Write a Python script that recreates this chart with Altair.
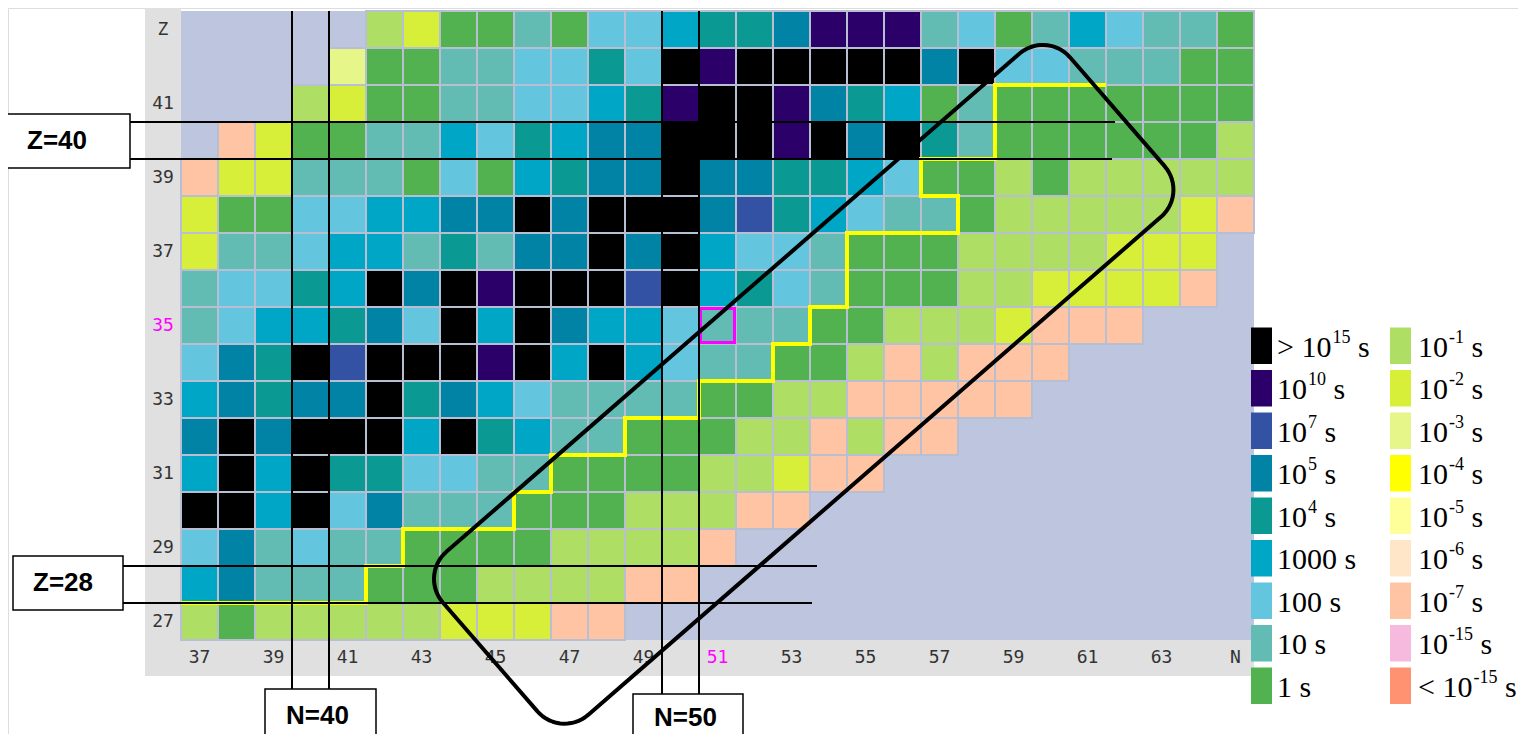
import altair as alt
import numpy as np
import pandas as pd

# ---------------- data ----------------
N_VALUES = list(range(37, 66))          # neutron number columns
Z_VALUES = list(range(43, 26, -1))      # proton number rows (top to bottom)

# half-life class per cell, one character per N = 37 ... 65 ('.' = no nucleus)
ROWS = {
    43: ".....ab001" "02234" "45PPP" "12013" "2110",
    42: "....c00112" "242KP" "KKKKK" "5K221" "1100",
    41: "...ab00112" "234PK" "KP543" "01000" "0000",
    40: ".gb0011324" "355KK" "KPK5K" "41000" "000a",
    39: "gbb1110203" "455K5" "54432" "00a0a" "aaaa",
    38: "b00223355K" "5KKK5" "B4321" "10aaa" "aabg",
    37: "b112331415" "5K5K3" "22100" "0aaaa" "bbb.",
    36: "12243K5KPK" "KKBK3" "42100" "0aabb" "bbg.",
    35: "1233452K3K" "53321" "1100a" "aabgg" "g...",
    34: "254KBKKKPK" "3K321" "100ag" "aggg." "....",
    33: "35455K4532" "11110" "0aagg" "ggg.." "....",
    32: "5K5KKK3K43" "11000" "aagag" "g...." "....",
    31: "3K3K442211" "0000a" "abgg." "....." "....",
    30: "KK3K251110" "00aaa" "gg..." "....." "....",
    29: "2512110000" "aaaag" "....." "....." "....",
    28: "35111000aa" "aagg." "....." "....." "....",
    27: "a0aaaaabbb" "gg..." "....." "....." "....",
}

CLASS_CODES = ["K", "P", "B", "5", "4", "3", "2", "1", "0",
               "a", "b", "c", "d", "e", "f", "g", "h", "i"]
CLASS_COLORS = ["#000000", "#2b0068", "#3352a3", "#0083a4", "#0a9a93", "#00a6c6",
                "#63c5de", "#63bcb4", "#53b250", "#aede63", "#d7ef38", "#e6f689",
                "#ffff00", "#ffff99", "#ffe6c8", "#ffc4a3", "#f5badd", "#ff9270"]

LEG_LEFT_CODES = ["K", "P", "B", "5", "4", "3", "2", "1", "0"]
LEG_LEFT_BASE = ["> 10", "10", "10", "10", "10", "1000 s", "100 s", "10 s", "1 s"]
LEG_LEFT_SUP = ["15", "10", "7", "5", "4", "", "", "", ""]
LEG_RIGHT_CODES = ["a", "b", "c", "d", "e", "f", "g", "h", "i"]
LEG_RIGHT_BASE = ["10", "10", "10", "10", "10", "10", "10", "10", "< 10"]
LEG_RIGHT_SUP = ["-1", "-2", "-3", "-4", "-5", "-6", "-7", "-15", "-15"]

X_TICKS = [37, 39, 41, 43, 45, 47, 49, 51, 53, 55, 57, 59, 61, 63, 65]
X_TICK_TEXT = ["37", "39", "41", "43", "45", "47", "49", "51", "53", "55", "57", "59", "61", "63", "N"]
Y_TICKS = [43, 41, 39, 37, 35, 33, 31, 29, 27]
Y_TICK_TEXT = ["Z", "41", "39", "37", "35", "33", "31", "29", "27"]
HIGHLIGHT_N, HIGHLIGHT_Z = 51, 35

# stepped yellow boundary (cell-edge coordinates N, Z)
STEP_N = [36.5, 41.5, 41.5, 42.5, 42.5, 45.5, 45.5, 46.5, 46.5, 48.5, 48.5, 50.5, 50.5,
          52.5, 52.5, 53.5, 53.5, 54.5, 54.5, 57.5, 57.5, 56.5, 56.5, 58.5, 58.5, 61.5]
STEP_Z = [27.5, 27.5, 28.5, 28.5, 29.5, 29.5, 30.5, 30.5, 31.5, 31.5, 32.5, 32.5, 33.5,
          33.5, 34.5, 34.5, 35.5, 35.5, 37.5, 37.5, 38.5, 38.5, 39.5, 39.5, 41.5, 41.5]

# ---------------- geometry ----------------
PAGE = 8
W, H = 1510, 726
CELL = 37
GX, GY = 181, 11      # page position of the grid's left / top edge


def nx(px):
    return 36.5 + (px - GX) / CELL


def zy(py):
    return 43.5 - (py - GY) / CELL


xs = alt.Scale(domain=[nx(PAGE), nx(PAGE + W)], nice=False, zero=False)
ys = alt.Scale(domain=[zy(PAGE + H), zy(PAGE)], nice=False, zero=False)


def enc_rect(base):
    return base.encode(
        x=alt.X("x:Q", scale=xs, axis=None), x2="x2:Q",
        y=alt.Y("y:Q", scale=ys, axis=None), y2="y2:Q")


# background bands
bands = pd.DataFrame([
    dict(x=nx(145), x2=nx(181), y=zy(8), y2=zy(676), fill="#e0e0e0"),
    dict(x=nx(145), x2=nx(1254), y=zy(640), y2=zy(676), fill="#e0e0e0"),
    dict(x=nx(181), x2=nx(1254), y=zy(11), y2=zy(640), fill="#bec6df"),
])
band_layer = enc_rect(alt.Chart(bands).mark_rect()).encode(
    fill=alt.Fill("fill:N", scale=None))

# cells
cells = []
for z in Z_VALUES:
    for i, n in enumerate(N_VALUES):
        c = ROWS[z][i]
        if c != ".":
            cells.append(dict(N=n, Z=z, code=c, x=n - 0.5, x2=n + 0.5, y=z - 0.5, y2=z + 0.5))
cells = pd.DataFrame(cells)
color_scale = alt.Scale(domain=CLASS_CODES, range=CLASS_COLORS)
cell_layer = enc_rect(alt.Chart(cells).mark_rect(stroke="#b8bfd2", strokeWidth=2)).encode(
    fill=alt.Fill("code:N", scale=color_scale, legend=None))

# tick labels
ticks = [dict(x=n, y=zy(658), t=t, col="#ff00ff" if n == HIGHLIGHT_N else "#333333")
         for n, t in zip(X_TICKS, X_TICK_TEXT)]
ticks += [dict(x=nx(163), y=z, t=t, col="#ff00ff" if z == HIGHLIGHT_Z else "#333333")
          for z, t in zip(Y_TICKS, Y_TICK_TEXT)]
tick_layer = alt.Chart(pd.DataFrame(ticks)).mark_text(
    font="DejaVu Sans Mono", fontSize=18, align="center", baseline="middle").encode(
    x=alt.X("x:Q", scale=xs, axis=None), y=alt.Y("y:Q", scale=ys, axis=None),
    text="t:N", color=alt.Color("col:N", scale=None))

# highlighted cell
hl = pd.DataFrame([dict(x=HIGHLIGHT_N - 0.5 + 0.04, x2=HIGHLIGHT_N + 0.5 - 0.04,
                        y=HIGHLIGHT_Z - 0.5 + 0.04, y2=HIGHLIGHT_Z + 0.5 - 0.04)])
hl_layer = enc_rect(alt.Chart(hl).mark_rect(fillOpacity=0, stroke="#ff00ff", strokeWidth=3))

# yellow stepped line
steps = pd.DataFrame(dict(i=range(len(STEP_N)), x=STEP_N, y=STEP_Z))
step_layer = alt.Chart(steps).mark_line(color="#ffff00", strokeWidth=4).encode(
    x=alt.X("x:Q", scale=xs, axis=None), y=alt.Y("y:Q", scale=ys, axis=None),
    order="i:Q")

# guide lines
guides = pd.DataFrame([
    dict(x=nx(130), x2=nx(1115), y=40.5, y2=40.5),
    dict(x=nx(130), x2=nx(1112), y=39.5, y2=39.5),
    dict(x=nx(123), x2=nx(817), y=28.5, y2=28.5),
    dict(x=nx(123), x2=nx(812), y=27.5, y2=27.5),
    dict(x=39.5, x2=39.5, y=43.5, y2=zy(689)),
    dict(x=40.5, x2=40.5, y=43.5, y2=zy(689)),
    dict(x=49.5, x2=49.5, y=43.5, y2=zy(694)),
    dict(x=50.5, x2=50.5, y=43.5, y2=zy(694)),
])
guide_layer = enc_rect(alt.Chart(guides).mark_rule(color="black", strokeWidth=2))

# rounded rectangle outline
cx, cy, a, b, r, th = 53.33, 33.41, 11.23, 2.92, 0.97, np.radians(41)
pts = []
for (sx, sy, start) in [(1, 1, 0), (-1, 1, 90), (-1, -1, 180), (1, -1, 270)]:
    for phi in np.radians(np.linspace(start, start + 90, 16)):
        lx = sx * (a - r) + r * np.cos(phi)
        ly = sy * (b - r) + r * np.sin(phi)
        pts.append((cx + lx * np.cos(th) - ly * np.sin(th), cy + lx * np.sin(th) + ly * np.cos(th)))
pts.append(pts[0])
rr = pd.DataFrame(dict(i=range(len(pts)), x=[p[0] for p in pts], y=[p[1] for p in pts]))
rr_layer = alt.Chart(rr).mark_line(color="black", strokeWidth=4, strokeJoin="round").encode(
    x=alt.X("x:Q", scale=xs, axis=None), y=alt.Y("y:Q", scale=ys, axis=None), order="i:Q")

# label boxes
boxes = pd.DataFrame([
    dict(x=nx(7), x2=nx(130), y=zy(114), y2=zy(168)),
    dict(x=nx(13), x2=nx(123), y=zy(556), y2=zy(610)),
    dict(x=nx(265), x2=nx(376), y=zy(689), y2=zy(760)),
    dict(x=nx(633), x2=nx(743), y=zy(694), y2=zy(760)),
])
box_layer = enc_rect(alt.Chart(boxes).mark_rect(fill="white", stroke="black", strokeWidth=1.5))
box_text = pd.DataFrame([
    dict(x=nx(27), y=zy(141), t="Z=40"),
    dict(x=nx(33), y=zy(583), t="Z=28"),
    dict(x=nx(286), y=zy(716), t="N=40"),
    dict(x=nx(654), y=zy(718), t="N=50"),
])
box_text_layer = alt.Chart(box_text).mark_text(
    font="Liberation Sans", fontWeight="bold", fontSize=26, align="left", baseline="middle",
    color="black").encode(
    x=alt.X("x:Q", scale=xs, axis=None), y=alt.Y("y:Q", scale=ys, axis=None), text="t:N")

# legend (drawn by hand to allow superscripts)
EM = {c: 0.5 for c in "0123456789"}
EM.update({" ": 0.25, ">": 0.564, "<": 0.564, "s": 0.389, "-": 0.333})
MAIN, SUP = 30, 18


def tw(s, size):
    return sum(EM[ch] for ch in s) * size


sw, lt_main, lt_sup = [], [], []
for col, (codes, bases, sups) in enumerate([(LEG_LEFT_CODES, LEG_LEFT_BASE, LEG_LEFT_SUP),
                                            (LEG_RIGHT_CODES, LEG_RIGHT_BASE, LEG_RIGHT_SUP)]):
    sx0 = 1251 if col == 0 else 1390
    tx0 = 1277 if col == 0 else 1418
    for k, (c, bse, sp) in enumerate(zip(codes, bases, sups)):
        top = 327.5 + k * 42.5
        sw.append(dict(code=c, x=nx(sx0), x2=nx(sx0 + 21), y=zy(top), y2=zy(top + 36.5)))
        base_y = top + 29
        lt_main.append(dict(x=nx(tx0), y=zy(base_y), t=bse))
        if sp:
            xs_sup = tx0 + tw(bse, MAIN) + 1
            lt_sup.append(dict(x=nx(xs_sup), y=zy(base_y - 14), t=sp))
            lt_main.append(dict(x=nx(xs_sup + tw(sp, SUP) + 0.25 * MAIN), y=zy(base_y), t="s"))

sw_layer = enc_rect(alt.Chart(pd.DataFrame(sw)).mark_rect()).encode(
    fill=alt.Fill("code:N", scale=color_scale, legend=None))
leg_main = alt.Chart(pd.DataFrame(lt_main)).mark_text(
    font="Liberation Serif", fontSize=MAIN, align="left", baseline="alphabetic", color="black").encode(
    x=alt.X("x:Q", scale=xs, axis=None), y=alt.Y("y:Q", scale=ys, axis=None), text="t:N")
leg_sup = alt.Chart(pd.DataFrame(lt_sup)).mark_text(
    font="Liberation Serif", fontSize=SUP, align="left", baseline="alphabetic", color="black").encode(
    x=alt.X("x:Q", scale=xs, axis=None), y=alt.Y("y:Q", scale=ys, axis=None), text="t:N")

chart = alt.layer(
    band_layer, cell_layer, tick_layer, hl_layer, step_layer, guide_layer, rr_layer,
    box_layer, box_text_layer, sw_layer, leg_main, leg_sup
).properties(
    width=W, height=H, autosize=alt.AutoSizeParams(type="none"), padding=0
).configure_view(stroke=None).configure(background="white")

chart.save("out.html", embed_options={"renderer": "svg", "actions": False})
